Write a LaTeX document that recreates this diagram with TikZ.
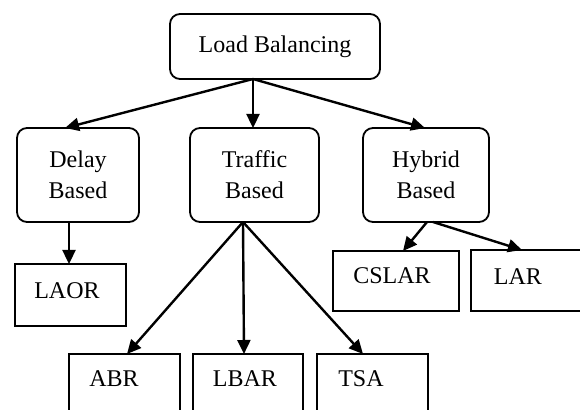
\documentclass[tikz,border=0pt]{standalone}
\usepackage{fontspec}
\setmainfont{Liberation Serif}
\usetikzlibrary{arrows.meta}
\begin{document}
\begin{tikzpicture}[x=0.5pt,y=-0.5pt,
  every node/.style={font=\fontsize{12}{15.5}\selectfont, inner sep=0pt, outer sep=0pt},
  rbox/.style={draw, line width=0.9pt, rounded corners=5pt, align=center, minimum height=47pt},
  sbox/.style={draw, line width=0.9pt, rectangle},
  conn/.style={line width=1.2pt, -{Triangle[length=7pt,width=6.5pt]}}
]
\useasboundingbox (0,0) rectangle (580,410);
% top
\node[rbox, minimum width=105pt, minimum height=32.5pt] (lb) at (275,46.5) {Load Balancing};
% second level
\node[rbox, minimum width=61pt] (delay) at (78,175) {Delay\\Based};
\node[rbox, minimum width=64.5pt] (traffic) at (254.5,175) {Traffic\\Based};
\node[rbox, minimum width=63pt] (hybrid) at (426,175) {Hybrid\\Based};
% third level
\node[sbox, minimum width=55.5pt, minimum height=31pt] (laor) at (70.5,295) {};
\node (laort) at (67,291) {LAOR};
\node[sbox, minimum width=63pt, minimum height=30pt] (cslar) at (396,281) {};
\node (cslart) at (392,276) {CSLAR};
\node[sbox, minimum width=74.5pt, minimum height=30.5pt] (lar) at (545.5,280.5) {};
\node (lart) at (518,277) {LAR};
% bottom level
\node[sbox, minimum width=55.5pt, minimum height=43pt] (abr) at (124.5,397) {};
\node (abrt) at (114,379) {ABR};
\node[sbox, minimum width=55pt, minimum height=43pt] (lbar) at (248,397) {};
\node (lbart) at (245,379) {LBAR};
\node[sbox, minimum width=55.5pt, minimum height=43pt] (tsa) at (372.5,397) {};
\node (tsat) at (361,379) {TSA};
% connectors
\draw[conn] ([xshift=-11pt]lb.south) -- ([xshift=-6.5pt]delay.north);
\draw[conn] ([xshift=-11pt]lb.south) -- ([xshift=-0.75pt]traffic.north);
\draw[conn] ([xshift=-11pt]lb.south) -- ([xshift=-0.5pt]hybrid.north);
\draw[conn] ([xshift=-4.5pt]delay.south) -- ([xshift=-0.75pt]laor.north);
\draw[conn] ([xshift=-5.75pt]traffic.south) -- ([xshift=1.25pt]abr.north);
\draw[conn] ([xshift=-5.75pt]traffic.south) -- ([xshift=-2pt]lbar.north);
\draw[conn] ([xshift=-5.75pt]traffic.south) -- ([xshift=-4.75pt]tsa.north);
\draw[conn] ([xshift=0.5pt]hybrid.south) -- ([xshift=3.5pt]cslar.north);
\draw[conn] ([xshift=3.5pt]hybrid.south) -- ([xshift=-11.75pt]lar.north);
\end{tikzpicture}
\end{document}
